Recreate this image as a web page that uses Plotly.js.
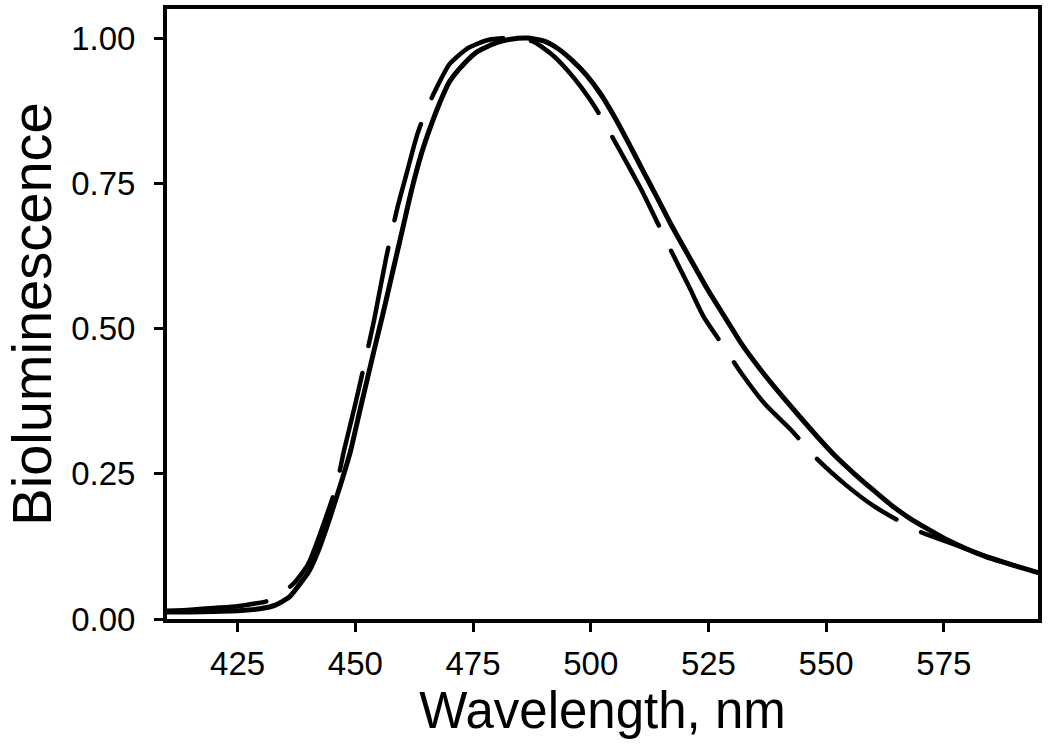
<!DOCTYPE html>
<html>
<head>
<meta charset="utf-8">
<script src="https://cdn.plot.ly/plotly-3.0.1.min.js"></script>
<style>
  html, body { margin: 0; padding: 0; background: #fff; }
  #chart { width: 1050px; height: 744px; }
  .scatterlayer path.js-line { stroke-linecap: round; stroke-linejoin: round; }
</style>
</head>
<body>
<div id="chart"></div>
<script>
// Solid spectrum
const solidWavelength = [410, 415, 420, 425, 430, 433, 436, 438, 440, 442, 444.5, 447, 449, 451, 454, 456, 458, 460, 462, 464, 466, 468, 470, 473, 476, 480, 483, 486.5, 490, 493, 496, 499, 502, 505, 508, 511, 514, 517, 521, 525, 529, 532, 536, 540, 544, 548, 552, 556, 560, 564, 568, 572, 576, 580, 584, 588, 592, 595];
const solidIntensity  = [0.012, 0.012, 0.013, 0.014, 0.018, 0.024, 0.038, 0.058, 0.08, 0.115, 0.172, 0.235, 0.29, 0.36, 0.463, 0.53, 0.6, 0.67, 0.74, 0.80, 0.848, 0.89, 0.925, 0.955, 0.977, 0.992, 0.998, 1.0, 0.995, 0.982, 0.962, 0.937, 0.905, 0.865, 0.82, 0.773, 0.727, 0.68, 0.622, 0.565, 0.513, 0.474, 0.43, 0.39, 0.352, 0.315, 0.28, 0.25, 0.222, 0.195, 0.172, 0.153, 0.135, 0.12, 0.107, 0.097, 0.087, 0.08];

// Dashed spectrum
const dashedWavelength = [410, 415, 420, 425, 429, 431, 434, 437, 440, 443.8, 446, 447.6, 450, 452.6, 454, 456.5, 459, 461, 463, 465, 467, 470, 474, 478.4, 484.5, 488, 492, 495, 498, 501, 504.5, 508, 511, 514, 517, 521, 524, 527.8, 532, 537, 542.6, 548, 554.3, 560, 565.2, 570, 575, 580, 585, 590, 595];
const dashedIntensity  = [0.014, 0.016, 0.019, 0.022, 0.027, 0.03, 0.042, 0.062, 0.095, 0.176, 0.23, 0.29, 0.37, 0.463, 0.515, 0.62, 0.71, 0.77, 0.83, 0.875, 0.91, 0.955, 0.983, 0.997, 1.0, 0.993, 0.97, 0.945, 0.915, 0.88, 0.831, 0.78, 0.735, 0.685, 0.635, 0.57, 0.52, 0.474, 0.423, 0.37, 0.325, 0.276, 0.23, 0.195, 0.17, 0.15, 0.135, 0.12, 0.105, 0.092, 0.078];

const xTickVals = [425, 450, 475, 500, 525, 550, 575];
const yTickVals = [0, 0.25, 0.5, 0.75, 1.0];
const yTickText = ['0.00', '0.25', '0.50', '0.75', '1.00'];

const traces = [
  {
    x: dashedWavelength, y: dashedIntensity, type: 'scatter', mode: 'lines',
    line: { color: '#000', width: 4.5, dash: '100px,28px', shape: 'spline', smoothing: 0.6 },
    hoverinfo: 'x+y', showlegend: false
  },
  {
    x: solidWavelength, y: solidIntensity, type: 'scatter', mode: 'lines',
    line: { color: '#000', width: 5, shape: 'spline', smoothing: 0.6 },
    hoverinfo: 'x+y', showlegend: false
  }
];

const layout = {
  width: 1050, height: 744,
  paper_bgcolor: '#fff', plot_bgcolor: '#fff',
  margin: { l: 167, r: 12, t: 9, b: 125 },
  font: { family: 'Arial, "Liberation Sans", sans-serif', color: '#000' },
  xaxis: {
    range: [410, 595], tickvals: xTickVals, ticks: 'outside', ticklen: 9, tickwidth: 3, tickcolor: '#000',
    showline: true, linewidth: 4, linecolor: '#000', mirror: true, showgrid: false, zeroline: false,
    tickfont: { size: 33, color: '#000' }, ticklabelstandoff: 3,
    title: { text: 'Wavelength, nm', font: { size: 51, color: '#000' }, standoff: 8 }
  },
  yaxis: {
    range: [0, 1.05], tickvals: yTickVals, ticktext: yTickText, ticks: 'outside', ticklen: 9, tickwidth: 3, tickcolor: '#000',
    showline: true, linewidth: 4, linecolor: '#000', mirror: true, showgrid: false, zeroline: false,
    tickfont: { size: 33, color: '#000' }, ticklabelstandoff: 12,
    title: { text: 'Bioluminescence', font: { size: 56, color: '#000' }, standoff: 14 }
  }
};

Plotly.newPlot('chart', traces, layout, { displayModeBar: false, staticPlot: true });
</script>
</body>
</html>
